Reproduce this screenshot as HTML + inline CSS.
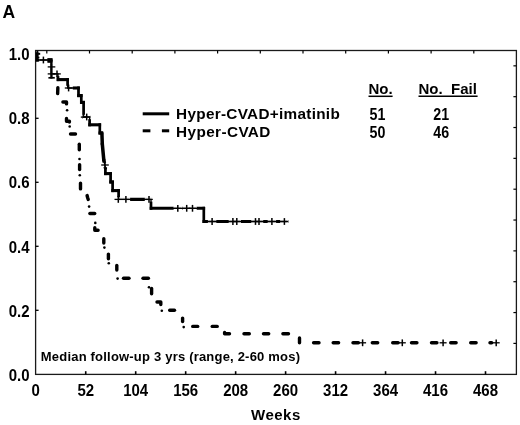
<!DOCTYPE html>
<html><head><meta charset="utf-8"><style>
html,body{margin:0;padding:0;background:#fff;}
body{width:520px;height:425px;overflow:hidden;}
svg{display:block;filter:grayscale(1);}
</style></head><body>
<svg width="520" height="425" viewBox="0 0 520 425">
<rect width="520" height="425" fill="#fff"/>
<rect x="35.6" y="50.5" width="480.79999999999995" height="323.9" fill="none" stroke="#1a1a1a" stroke-width="1.3"/>
<line x1="35.6" y1="310.3" x2="38.6" y2="310.3" stroke="#000" stroke-width="1.3"/>
<line x1="35.6" y1="246.3" x2="38.6" y2="246.3" stroke="#000" stroke-width="1.3"/>
<line x1="35.6" y1="182.3" x2="38.6" y2="182.3" stroke="#000" stroke-width="1.3"/>
<line x1="35.6" y1="118.3" x2="38.6" y2="118.3" stroke="#000" stroke-width="1.3"/>
<line x1="85.72" y1="374.4" x2="85.72" y2="371.2" stroke="#000" stroke-width="1.6"/>
<line x1="135.69" y1="374.4" x2="135.69" y2="371.2" stroke="#000" stroke-width="1.6"/>
<line x1="185.67" y1="374.4" x2="185.67" y2="371.2" stroke="#000" stroke-width="1.6"/>
<line x1="235.64" y1="374.4" x2="235.64" y2="371.2" stroke="#000" stroke-width="1.6"/>
<line x1="285.61" y1="374.4" x2="285.61" y2="371.2" stroke="#000" stroke-width="1.6"/>
<line x1="335.58" y1="374.4" x2="335.58" y2="371.2" stroke="#000" stroke-width="1.6"/>
<line x1="385.55" y1="374.4" x2="385.55" y2="371.2" stroke="#000" stroke-width="1.6"/>
<line x1="435.53" y1="374.4" x2="435.53" y2="371.2" stroke="#000" stroke-width="1.6"/>
<line x1="485.50" y1="374.4" x2="485.50" y2="371.2" stroke="#000" stroke-width="1.6"/>
<line x1="46.80" y1="50.5" x2="46.80" y2="53.5" stroke="#000" stroke-width="1.2"/>
<line x1="89.50" y1="50.5" x2="89.50" y2="53.5" stroke="#000" stroke-width="1.2"/>
<line x1="132.20" y1="50.5" x2="132.20" y2="53.5" stroke="#000" stroke-width="1.2"/>
<line x1="174.90" y1="50.5" x2="174.90" y2="53.5" stroke="#000" stroke-width="1.2"/>
<line x1="217.60" y1="50.5" x2="217.60" y2="53.5" stroke="#000" stroke-width="1.2"/>
<line x1="260.30" y1="50.5" x2="260.30" y2="53.5" stroke="#000" stroke-width="1.2"/>
<line x1="303.00" y1="50.5" x2="303.00" y2="53.5" stroke="#000" stroke-width="1.2"/>
<line x1="345.70" y1="50.5" x2="345.70" y2="53.5" stroke="#000" stroke-width="1.2"/>
<line x1="388.40" y1="50.5" x2="388.40" y2="53.5" stroke="#000" stroke-width="1.2"/>
<line x1="431.10" y1="50.5" x2="431.10" y2="53.5" stroke="#000" stroke-width="1.2"/>
<line x1="473.80" y1="50.5" x2="473.80" y2="53.5" stroke="#000" stroke-width="1.2"/>
<line x1="516.4" y1="343.40" x2="513.4" y2="343.40" stroke="#000" stroke-width="1.2"/>
<line x1="516.4" y1="312.56" x2="513.4" y2="312.56" stroke="#000" stroke-width="1.2"/>
<line x1="516.4" y1="281.72" x2="513.4" y2="281.72" stroke="#000" stroke-width="1.2"/>
<line x1="516.4" y1="250.88" x2="513.4" y2="250.88" stroke="#000" stroke-width="1.2"/>
<line x1="516.4" y1="220.04" x2="513.4" y2="220.04" stroke="#000" stroke-width="1.2"/>
<line x1="516.4" y1="189.20" x2="513.4" y2="189.20" stroke="#000" stroke-width="1.2"/>
<line x1="516.4" y1="158.36" x2="513.4" y2="158.36" stroke="#000" stroke-width="1.2"/>
<line x1="516.4" y1="127.52" x2="513.4" y2="127.52" stroke="#000" stroke-width="1.2"/>
<line x1="516.4" y1="96.68" x2="513.4" y2="96.68" stroke="#000" stroke-width="1.2"/>
<line x1="516.4" y1="65.84" x2="513.4" y2="65.84" stroke="#000" stroke-width="1.2"/>
<text x="2.5" y="17.9" font-size="17.5" font-family="Liberation Sans, sans-serif" font-weight="bold">A</text>
<text transform="translate(29.50,59.55) scale(1.0,1.05)" font-size="15" text-anchor="end" font-family="Liberation Sans, sans-serif" font-weight="bold">1.0</text>
<text transform="translate(29.50,123.88) scale(1.0,1.05)" font-size="15" text-anchor="end" font-family="Liberation Sans, sans-serif" font-weight="bold">0.8</text>
<text transform="translate(29.50,188.21) scale(1.0,1.05)" font-size="15" text-anchor="end" font-family="Liberation Sans, sans-serif" font-weight="bold">0.6</text>
<text transform="translate(29.50,252.54) scale(1.0,1.05)" font-size="15" text-anchor="end" font-family="Liberation Sans, sans-serif" font-weight="bold">0.4</text>
<text transform="translate(29.50,316.87) scale(1.0,1.05)" font-size="15" text-anchor="end" font-family="Liberation Sans, sans-serif" font-weight="bold">0.2</text>
<text transform="translate(29.50,381.20) scale(1.0,1.05)" font-size="15" text-anchor="end" font-family="Liberation Sans, sans-serif" font-weight="bold">0.0</text>
<text transform="translate(35.75,396.40) scale(1.0,1.05)" font-size="15" text-anchor="middle" font-family="Liberation Sans, sans-serif" font-weight="bold">0</text>
<text transform="translate(85.72,396.40) scale(1.0,1.05)" font-size="15" text-anchor="middle" font-family="Liberation Sans, sans-serif" font-weight="bold">52</text>
<text transform="translate(135.69,396.40) scale(1.0,1.05)" font-size="15" text-anchor="middle" font-family="Liberation Sans, sans-serif" font-weight="bold">104</text>
<text transform="translate(185.67,396.40) scale(1.0,1.05)" font-size="15" text-anchor="middle" font-family="Liberation Sans, sans-serif" font-weight="bold">156</text>
<text transform="translate(235.64,396.40) scale(1.0,1.05)" font-size="15" text-anchor="middle" font-family="Liberation Sans, sans-serif" font-weight="bold">208</text>
<text transform="translate(285.61,396.40) scale(1.0,1.05)" font-size="15" text-anchor="middle" font-family="Liberation Sans, sans-serif" font-weight="bold">260</text>
<text transform="translate(335.58,396.40) scale(1.0,1.05)" font-size="15" text-anchor="middle" font-family="Liberation Sans, sans-serif" font-weight="bold">312</text>
<text transform="translate(385.55,396.40) scale(1.0,1.05)" font-size="15" text-anchor="middle" font-family="Liberation Sans, sans-serif" font-weight="bold">364</text>
<text transform="translate(435.53,396.40) scale(1.0,1.05)" font-size="15" text-anchor="middle" font-family="Liberation Sans, sans-serif" font-weight="bold">416</text>
<text transform="translate(485.50,396.40) scale(1.0,1.05)" font-size="15" text-anchor="middle" font-family="Liberation Sans, sans-serif" font-weight="bold">468</text>
<text x="251.0" y="419.6" font-size="15" letter-spacing="0.5" font-family="Liberation Sans, sans-serif" font-weight="bold">Weeks</text>
<line x1="142.7" y1="113.8" x2="169.2" y2="113.8" stroke="#000" stroke-width="3"/>
<line x1="142.7" y1="130.8" x2="150.4" y2="130.8" stroke="#000" stroke-width="3"/>
<line x1="161.9" y1="130.8" x2="169.2" y2="130.8" stroke="#000" stroke-width="3"/>
<text x="176.1" y="118.8" font-size="15.3" letter-spacing="0.3" font-family="Liberation Sans, sans-serif" font-weight="bold">Hyper-CVAD+imatinib</text>
<text x="176.1" y="137.4" font-size="15.3" letter-spacing="0.4" font-family="Liberation Sans, sans-serif" font-weight="bold">Hyper-CVAD</text>
<text x="368.5" y="93.5" font-size="15" font-family="Liberation Sans, sans-serif" font-weight="bold">No.</text>
<text x="418.5" y="93.5" font-size="15" font-family="Liberation Sans, sans-serif" font-weight="bold" xml:space="preserve">No.  Fail</text>
<line x1="368.5" y1="96.3" x2="392.6" y2="96.3" stroke="#000" stroke-width="1.5"/>
<line x1="418.5" y1="96.3" x2="477.6" y2="96.3" stroke="#000" stroke-width="1.5"/>
<text transform="translate(369.50,119.60) scale(0.95,1.05)" font-size="15" text-anchor="start" font-family="Liberation Sans, sans-serif" font-weight="bold">51</text>
<text transform="translate(433.30,119.60) scale(0.95,1.05)" font-size="15" text-anchor="start" font-family="Liberation Sans, sans-serif" font-weight="bold">21</text>
<text transform="translate(369.50,137.60) scale(0.95,1.05)" font-size="15" text-anchor="start" font-family="Liberation Sans, sans-serif" font-weight="bold">50</text>
<text transform="translate(433.30,137.60) scale(0.95,1.05)" font-size="15" text-anchor="start" font-family="Liberation Sans, sans-serif" font-weight="bold">46</text>
<text x="40.8" y="361.3" font-size="13" letter-spacing="0.2" font-family="Liberation Sans, sans-serif" font-weight="bold">Median follow-up 3 yrs (range, 2-60 mos)</text>
<line x1="35.80" y1="60.0" x2="52.60" y2="60.0" stroke="#000" stroke-width="3.1"/>
<line x1="50.00" y1="73.9" x2="59.30" y2="73.9" stroke="#000" stroke-width="3.1"/>
<line x1="56.70" y1="79.6" x2="68.90" y2="79.6" stroke="#000" stroke-width="3.1"/>
<line x1="66.30" y1="88.0" x2="79.80" y2="88.0" stroke="#000" stroke-width="3.1"/>
<line x1="77.20" y1="95.6" x2="82.60" y2="95.6" stroke="#000" stroke-width="3.1"/>
<line x1="80.00" y1="102.4" x2="84.90" y2="102.4" stroke="#000" stroke-width="3.1"/>
<line x1="82.30" y1="117.0" x2="90.90" y2="117.0" stroke="#000" stroke-width="3.1"/>
<line x1="88.30" y1="124.8" x2="101.10" y2="124.8" stroke="#000" stroke-width="3.1"/>
<line x1="98.50" y1="133.0" x2="103.20" y2="133.0" stroke="#000" stroke-width="3.1"/>
<line x1="104.10" y1="173.6" x2="111.90" y2="173.6" stroke="#000" stroke-width="3.1"/>
<line x1="109.30" y1="182.0" x2="113.90" y2="182.0" stroke="#000" stroke-width="3.1"/>
<line x1="111.30" y1="190.6" x2="119.90" y2="190.6" stroke="#000" stroke-width="3.1"/>
<line x1="117.30" y1="199.4" x2="152.30" y2="199.4" stroke="#000" stroke-width="3.1"/>
<line x1="149.70" y1="208.3" x2="205.10" y2="208.3" stroke="#000" stroke-width="3.1"/>
<line x1="202.50" y1="221.5" x2="288.80" y2="221.5" stroke="#000" stroke-width="3.1"/>
<line x1="37.1" y1="52.30" x2="37.1" y2="61.50" stroke="#000" stroke-width="2.7"/>
<line x1="58.0" y1="72.40" x2="58.0" y2="81.10" stroke="#000" stroke-width="2.7"/>
<line x1="67.6" y1="78.10" x2="67.6" y2="89.50" stroke="#000" stroke-width="2.7"/>
<line x1="78.5" y1="86.50" x2="78.5" y2="97.10" stroke="#000" stroke-width="2.7"/>
<line x1="81.3" y1="94.10" x2="81.3" y2="103.90" stroke="#000" stroke-width="2.7"/>
<line x1="83.6" y1="100.90" x2="83.6" y2="118.50" stroke="#000" stroke-width="2.7"/>
<line x1="89.6" y1="115.50" x2="89.6" y2="126.30" stroke="#000" stroke-width="2.7"/>
<line x1="99.8" y1="123.30" x2="99.8" y2="134.50" stroke="#000" stroke-width="2.7"/>
<line x1="101.9" y1="133.00" x2="102.3" y2="144.00" stroke="#000" stroke-width="3.5" stroke-linecap="round"/>
<line x1="102.3" y1="144.00" x2="103.8" y2="160.00" stroke="#000" stroke-width="3.5" stroke-linecap="round"/>
<line x1="103.8" y1="160.00" x2="105.4" y2="168.00" stroke="#000" stroke-width="3.5" stroke-linecap="round"/>
<line x1="105.4" y1="166.50" x2="105.4" y2="175.10" stroke="#000" stroke-width="2.7"/>
<line x1="110.6" y1="172.10" x2="110.6" y2="183.50" stroke="#000" stroke-width="2.7"/>
<line x1="112.6" y1="180.50" x2="112.6" y2="192.10" stroke="#000" stroke-width="2.7"/>
<line x1="118.6" y1="189.10" x2="118.6" y2="200.90" stroke="#000" stroke-width="2.7"/>
<line x1="151.0" y1="197.90" x2="151.0" y2="209.80" stroke="#000" stroke-width="2.7"/>
<line x1="203.8" y1="206.80" x2="203.8" y2="223.00" stroke="#000" stroke-width="2.7"/>
<rect x="39.20" y="57.80" width="8.4" height="4.4" fill="#fff"/>
<rect x="47.30" y="64.70" width="8.4" height="4.4" fill="#fff"/>
<rect x="47.30" y="71.70" width="8.4" height="4.4" fill="#fff"/>
<rect x="52.80" y="71.70" width="8.4" height="4.4" fill="#fff"/>
<rect x="64.40" y="85.80" width="8.4" height="4.4" fill="#fff"/>
<rect x="82.50" y="114.80" width="8.4" height="4.4" fill="#fff"/>
<rect x="100.80" y="162.80" width="8.4" height="4.4" fill="#fff"/>
<rect x="114.10" y="197.20" width="8.4" height="4.4" fill="#fff"/>
<rect x="121.70" y="197.20" width="8.4" height="4.4" fill="#fff"/>
<rect x="144.80" y="197.20" width="8.4" height="4.4" fill="#fff"/>
<rect x="173.60" y="206.10" width="8.4" height="4.4" fill="#fff"/>
<rect x="182.50" y="206.10" width="8.4" height="4.4" fill="#fff"/>
<rect x="188.30" y="206.10" width="8.4" height="4.4" fill="#fff"/>
<rect x="207.90" y="219.30" width="8.4" height="4.4" fill="#fff"/>
<rect x="228.70" y="219.30" width="8.4" height="4.4" fill="#fff"/>
<rect x="232.60" y="219.30" width="8.4" height="4.4" fill="#fff"/>
<rect x="251.30" y="219.30" width="8.4" height="4.4" fill="#fff"/>
<rect x="254.80" y="219.30" width="8.4" height="4.4" fill="#fff"/>
<rect x="267.70" y="219.30" width="8.4" height="4.4" fill="#fff"/>
<rect x="280.20" y="219.30" width="8.4" height="4.4" fill="#fff"/>
<polyline points="37.10,53.80 37.10,60.00 51.30,60.00 51.30,73.90 58.00,73.90 58.00,79.60 67.60,79.60 67.60,88.00 78.50,88.00 78.50,95.60 81.30,95.60 81.30,102.40 83.60,102.40 83.60,117.00 89.60,117.00 89.60,124.80 99.80,124.80 99.80,133.00 101.90,133.00 102.30,144.00 103.80,160.00 105.40,168.00 105.40,173.60 110.60,173.60 110.60,182.00 112.60,182.00 112.60,190.60 118.60,190.60 118.60,199.40 151.00,199.40 151.00,208.30 203.80,208.30 203.80,221.50 287.50,221.50" fill="none" stroke="#000" stroke-width="1.3"/>
<line x1="39.60" y1="60.0" x2="47.20" y2="60.0" stroke="#000" stroke-width="1.3"/>
<line x1="43.4" y1="56.60" x2="43.4" y2="63.40" stroke="#000" stroke-width="1.5"/>
<line x1="47.70" y1="66.9" x2="55.30" y2="66.9" stroke="#000" stroke-width="1.3"/>
<line x1="51.5" y1="63.50" x2="51.5" y2="70.30" stroke="#000" stroke-width="1.5"/>
<line x1="47.70" y1="73.9" x2="55.30" y2="73.9" stroke="#000" stroke-width="1.3"/>
<line x1="51.5" y1="70.50" x2="51.5" y2="77.30" stroke="#000" stroke-width="1.5"/>
<line x1="53.20" y1="73.9" x2="60.80" y2="73.9" stroke="#000" stroke-width="1.3"/>
<line x1="57.0" y1="70.50" x2="57.0" y2="77.30" stroke="#000" stroke-width="1.5"/>
<line x1="64.80" y1="88.0" x2="72.40" y2="88.0" stroke="#000" stroke-width="1.3"/>
<line x1="68.6" y1="84.60" x2="68.6" y2="91.40" stroke="#000" stroke-width="1.5"/>
<line x1="82.90" y1="117.0" x2="90.50" y2="117.0" stroke="#000" stroke-width="1.3"/>
<line x1="86.7" y1="113.60" x2="86.7" y2="120.40" stroke="#000" stroke-width="1.5"/>
<line x1="101.20" y1="165.0" x2="108.80" y2="165.0" stroke="#000" stroke-width="1.3"/>
<line x1="105.0" y1="161.60" x2="105.0" y2="168.40" stroke="#000" stroke-width="1.5"/>
<line x1="114.50" y1="199.4" x2="122.10" y2="199.4" stroke="#000" stroke-width="1.3"/>
<line x1="118.3" y1="196.00" x2="118.3" y2="202.80" stroke="#000" stroke-width="1.5"/>
<line x1="122.10" y1="199.4" x2="129.70" y2="199.4" stroke="#000" stroke-width="1.3"/>
<line x1="125.9" y1="196.00" x2="125.9" y2="202.80" stroke="#000" stroke-width="1.5"/>
<line x1="145.20" y1="199.4" x2="152.80" y2="199.4" stroke="#000" stroke-width="1.3"/>
<line x1="149.0" y1="196.00" x2="149.0" y2="202.80" stroke="#000" stroke-width="1.5"/>
<line x1="174.00" y1="208.3" x2="181.60" y2="208.3" stroke="#000" stroke-width="1.3"/>
<line x1="177.8" y1="204.90" x2="177.8" y2="211.70" stroke="#000" stroke-width="1.5"/>
<line x1="182.90" y1="208.3" x2="190.50" y2="208.3" stroke="#000" stroke-width="1.3"/>
<line x1="186.7" y1="204.90" x2="186.7" y2="211.70" stroke="#000" stroke-width="1.5"/>
<line x1="188.70" y1="208.3" x2="196.30" y2="208.3" stroke="#000" stroke-width="1.3"/>
<line x1="192.5" y1="204.90" x2="192.5" y2="211.70" stroke="#000" stroke-width="1.5"/>
<line x1="208.30" y1="221.5" x2="215.90" y2="221.5" stroke="#000" stroke-width="1.3"/>
<line x1="212.1" y1="218.10" x2="212.1" y2="224.90" stroke="#000" stroke-width="1.5"/>
<line x1="229.10" y1="221.5" x2="236.70" y2="221.5" stroke="#000" stroke-width="1.3"/>
<line x1="232.9" y1="218.10" x2="232.9" y2="224.90" stroke="#000" stroke-width="1.5"/>
<line x1="233.00" y1="221.5" x2="240.60" y2="221.5" stroke="#000" stroke-width="1.3"/>
<line x1="236.8" y1="218.10" x2="236.8" y2="224.90" stroke="#000" stroke-width="1.5"/>
<line x1="251.70" y1="221.5" x2="259.30" y2="221.5" stroke="#000" stroke-width="1.3"/>
<line x1="255.5" y1="218.10" x2="255.5" y2="224.90" stroke="#000" stroke-width="1.5"/>
<line x1="255.20" y1="221.5" x2="262.80" y2="221.5" stroke="#000" stroke-width="1.3"/>
<line x1="259.0" y1="218.10" x2="259.0" y2="224.90" stroke="#000" stroke-width="1.5"/>
<line x1="268.10" y1="221.5" x2="275.70" y2="221.5" stroke="#000" stroke-width="1.3"/>
<line x1="271.9" y1="218.10" x2="271.9" y2="224.90" stroke="#000" stroke-width="1.5"/>
<line x1="280.60" y1="221.5" x2="288.20" y2="221.5" stroke="#000" stroke-width="1.3"/>
<line x1="284.4" y1="218.10" x2="284.4" y2="224.90" stroke="#000" stroke-width="1.5"/>
<line x1="36" y1="53.8" x2="40.2" y2="53.8" stroke="#000" stroke-width="2"/>
<line x1="80.8" y1="117.1" x2="86.7" y2="117.1" stroke="#000" stroke-width="1.3"/>
<line x1="37.4" y1="50.6" x2="37.4" y2="57" stroke="#000" stroke-width="1.8"/>
<line x1="51.4" y1="60" x2="51.4" y2="78.6" stroke="#000" stroke-width="2.2"/>
<line x1="48.4" y1="77.8" x2="54.8" y2="77.8" stroke="#000" stroke-width="1.7"/>
<rect x="47.4" y="58.2" width="5" height="4.6" fill="#000"/>
<line x1="36.3" y1="57.4" x2="39.4" y2="57.4" stroke="#000" stroke-width="1.5"/>
<line x1="57.86" y1="87.60" x2="57.64" y2="93.60" stroke="#000" stroke-width="3.4" stroke-linecap="round"/>
<polyline points="62.90,102.00 66.50,102.00 66.50,103.90" fill="none" stroke="#000" stroke-width="3.4" stroke-linecap="round" stroke-linejoin="round"/>
<circle cx="67.1" cy="110.3" r="1.3" fill="#000"/>
<polyline points="66.50,118.40 66.50,121.20 69.40,121.20 69.40,122.05" fill="none" stroke="#000" stroke-width="3.4" stroke-linecap="round" stroke-linejoin="round"/>
<circle cx="69.7" cy="126.5" r="1.3" fill="#000"/>
<line x1="70.50" y1="134.00" x2="75.50" y2="134.00" stroke="#000" stroke-width="3.4" stroke-linecap="round"/>
<line x1="79.30" y1="144.30" x2="79.30" y2="149.70" stroke="#000" stroke-width="3.4" stroke-linecap="round"/>
<circle cx="79.5" cy="159.0" r="1.3" fill="#000"/>
<line x1="79.60" y1="164.70" x2="79.60" y2="169.50" stroke="#000" stroke-width="3.4" stroke-linecap="round"/>
<circle cx="79.8" cy="175.2" r="1.3" fill="#000"/>
<line x1="80.50" y1="183.10" x2="80.50" y2="188.90" stroke="#000" stroke-width="3.4" stroke-linecap="round"/>
<polyline points="87.08,195.56 87.60,197.50 88.25,199.46" fill="none" stroke="#000" stroke-width="3.4" stroke-linecap="round" stroke-linejoin="round"/>
<circle cx="89.1" cy="206.6" r="1.3" fill="#000"/>
<line x1="89.90" y1="213.50" x2="94.70" y2="213.50" stroke="#000" stroke-width="3.4" stroke-linecap="round"/>
<circle cx="95.3" cy="222.9" r="1.3" fill="#000"/>
<polyline points="94.80,227.70 94.80,230.20 98.10,230.20" fill="none" stroke="#000" stroke-width="3.4" stroke-linecap="round" stroke-linejoin="round"/>
<line x1="103.80" y1="238.70" x2="103.80" y2="243.10" stroke="#000" stroke-width="3.4" stroke-linecap="round"/>
<circle cx="104.4" cy="247.6" r="1.3" fill="#000"/>
<line x1="108.40" y1="254.10" x2="108.40" y2="258.70" stroke="#000" stroke-width="3.4" stroke-linecap="round"/>
<circle cx="108.8" cy="263.2" r="1.3" fill="#000"/>
<line x1="116.80" y1="265.40" x2="116.80" y2="270.10" stroke="#000" stroke-width="3.4" stroke-linecap="round"/>
<circle cx="117.6" cy="278.6" r="1.3" fill="#000"/>
<line x1="123.50" y1="278.20" x2="129.00" y2="278.20" stroke="#000" stroke-width="3.4" stroke-linecap="round"/>
<line x1="143.00" y1="278.20" x2="148.40" y2="278.20" stroke="#000" stroke-width="3.4" stroke-linecap="round"/>
<circle cx="149.0" cy="287.2" r="1.3" fill="#000"/>
<line x1="151.60" y1="288.50" x2="151.60" y2="293.80" stroke="#000" stroke-width="3.4" stroke-linecap="round"/>
<polyline points="157.00,302.00 160.80,302.00 160.80,304.50" fill="none" stroke="#000" stroke-width="3.4" stroke-linecap="round" stroke-linejoin="round"/>
<circle cx="161.8" cy="310.8" r="1.3" fill="#000"/>
<line x1="169.70" y1="310.30" x2="174.50" y2="310.30" stroke="#000" stroke-width="3.4" stroke-linecap="round"/>
<line x1="182.60" y1="318.10" x2="182.60" y2="321.50" stroke="#000" stroke-width="3.4" stroke-linecap="round"/>
<circle cx="183.7" cy="327.1" r="1.3" fill="#000"/>
<line x1="192.70" y1="326.40" x2="197.70" y2="326.40" stroke="#000" stroke-width="3.4" stroke-linecap="round"/>
<line x1="212.20" y1="326.40" x2="217.20" y2="326.40" stroke="#000" stroke-width="3.4" stroke-linecap="round"/>
<polyline points="224.60,332.45 224.60,333.80 229.50,333.80" fill="none" stroke="#000" stroke-width="3.4" stroke-linecap="round" stroke-linejoin="round"/>
<line x1="244.00" y1="333.80" x2="249.30" y2="333.80" stroke="#000" stroke-width="3.4" stroke-linecap="round"/>
<line x1="263.50" y1="333.80" x2="268.70" y2="333.80" stroke="#000" stroke-width="3.4" stroke-linecap="round"/>
<line x1="282.90" y1="333.80" x2="288.50" y2="333.80" stroke="#000" stroke-width="3.4" stroke-linecap="round"/>
<line x1="299.50" y1="337.90" x2="299.50" y2="342.70" stroke="#000" stroke-width="3.4" stroke-linecap="round"/>
<line x1="313.60" y1="342.80" x2="319.00" y2="342.80" stroke="#000" stroke-width="3.4" stroke-linecap="round"/>
<line x1="333.20" y1="342.80" x2="338.60" y2="342.80" stroke="#000" stroke-width="3.4" stroke-linecap="round"/>
<line x1="353.00" y1="342.80" x2="358.40" y2="342.80" stroke="#000" stroke-width="3.4" stroke-linecap="round"/>
<line x1="372.30" y1="342.80" x2="377.70" y2="342.80" stroke="#000" stroke-width="3.4" stroke-linecap="round"/>
<line x1="392.70" y1="342.80" x2="398.10" y2="342.80" stroke="#000" stroke-width="3.4" stroke-linecap="round"/>
<line x1="411.50" y1="342.80" x2="416.90" y2="342.80" stroke="#000" stroke-width="3.4" stroke-linecap="round"/>
<line x1="431.50" y1="342.80" x2="436.90" y2="342.80" stroke="#000" stroke-width="3.4" stroke-linecap="round"/>
<line x1="450.70" y1="342.80" x2="456.10" y2="342.80" stroke="#000" stroke-width="3.4" stroke-linecap="round"/>
<line x1="470.70" y1="342.80" x2="476.10" y2="342.80" stroke="#000" stroke-width="3.4" stroke-linecap="round"/>
<line x1="490.00" y1="342.80" x2="491.70" y2="342.80" stroke="#000" stroke-width="3.4" stroke-linecap="round"/>
<line x1="359.10" y1="342.8" x2="366.10" y2="342.8" stroke="#000" stroke-width="1.3"/>
<line x1="362.6" y1="339.40" x2="362.6" y2="346.20" stroke="#000" stroke-width="1.5"/>
<line x1="398.80" y1="342.8" x2="405.80" y2="342.8" stroke="#000" stroke-width="1.3"/>
<line x1="402.3" y1="339.40" x2="402.3" y2="346.20" stroke="#000" stroke-width="1.5"/>
<line x1="439.60" y1="342.8" x2="446.60" y2="342.8" stroke="#000" stroke-width="1.3"/>
<line x1="443.1" y1="339.40" x2="443.1" y2="346.20" stroke="#000" stroke-width="1.5"/>
<line x1="492.70" y1="342.8" x2="499.70" y2="342.8" stroke="#000" stroke-width="1.3"/>
<line x1="496.2" y1="339.40" x2="496.2" y2="346.20" stroke="#000" stroke-width="1.5"/>
</svg>
</body></html>
